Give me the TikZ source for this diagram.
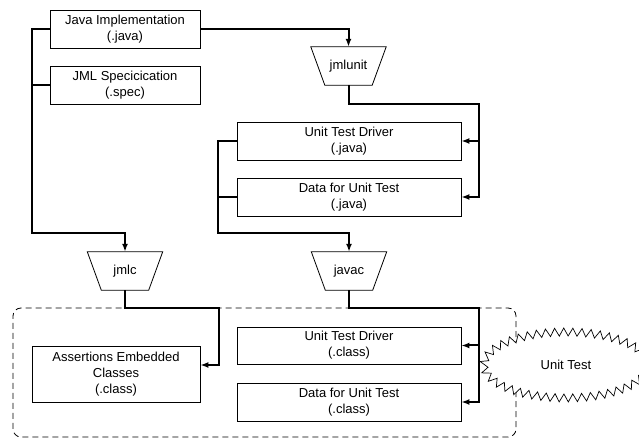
\documentclass[tikz,border=0pt]{standalone}
\usepackage{fontspec}
\setmainfont{Liberation Sans}
\usetikzlibrary{arrows.meta,decorations.pathmorphing,shapes.geometric}

\begin{document}
\begin{tikzpicture}[x=1pt,y=1pt,
  font=\fontsize{13}{16}\selectfont,
  box/.style={draw,line width=0.8pt,align=center,minimum width=150pt,minimum height=38pt,inner sep=2pt},
  widebox/.style={box,minimum width=224pt},
  tool/.style={minimum width=75pt,minimum height=38pt,inner sep=0pt},
  link/.style={line width=2pt},
  flow/.style={link,-{Latex[length=8pt,width=6pt]}}]
\definecolor{fillColor}{RGB}{255,255,255}
\path[use as bounding box,fill=fillColor] (0,0) rectangle (639,438);

% result area
\draw[line width=0.8pt,dash pattern=on 6pt off 4pt,rounded corners=8pt] (13,1) rectangle (516,130);

% sources
\node[box] (javaimpl) at (125,409) {Java Implementation\\(.java)};
\node[box] (jmlspec) at (125,353) {JML Specicication\\(.spec)};

% tools
\node[tool] (jmlunit) at (348.5,372) {jmlunit};
\node[tool] (jmlc) at (125,167) {jmlc};
\node[tool] (javac) at (349,167) {javac};
\foreach \t in {jmlunit,jmlc,javac}
  \draw[line width=0.8pt] (\t.north west) -- (\t.north east) --
    ([xshift=-14pt]\t.south east) -- ([xshift=14pt]\t.south west) -- cycle;

% generated sources
\node[widebox] (driverj) at (349,297) {Unit Test Driver\\(.java)};
\node[widebox] (dataj) at (349,241) {Data for Unit Test\\(.java)};

% classes
\node[box,minimum width=168pt,minimum height=56pt] (assert) at (116,64) {Assertions Embedded\\Classes\\(.class)};
\node[widebox,minimum height=37pt] (driverc) at (349,92.5) {Unit Test Driver\\(.class)};
\node[widebox] (datac) at (349,36) {Data for Unit Test\\(.class)};

\node[ellipse,draw,fill=fillColor,line width=0.7pt,minimum width=164pt,minimum height=66pt,
  decorate,decoration={zigzag,segment length=9pt,amplitude=4pt}] (unittest) at (566,73) {Unit Test};

% bus points
\coordinate (lbus) at (32,205);
\coordinate (mbus) at (218,205);
\coordinate (rbus) at (479,334);
\coordinate (cbus) at (219,130);
\coordinate (tbus) at (479,130);

\draw[flow] (javaimpl.east) -| (jmlunit.north);
\draw[flow] (javaimpl.west) -| (lbus) -| (jmlc.north);
\draw[link] (jmlspec.west) -- (jmlspec.west -| lbus);

\draw[flow] (jmlunit.south) |- (rbus) |- (dataj.east);
\draw[flow] (driverj.east -| rbus) -- (driverj.east);

\draw[flow] (driverj.west) -| (mbus) -| (javac.north);
\draw[link] (dataj.west) -- (dataj.west -| mbus);

\draw[flow] (jmlc.south) |- (cbus) |- ([yshift=9pt]assert.east);
\draw[flow] (javac.south) |- (tbus) |- (datac.east);
\draw[flow] (driverc.east -| tbus) -- (driverc.east);
\end{tikzpicture}
\end{document}
